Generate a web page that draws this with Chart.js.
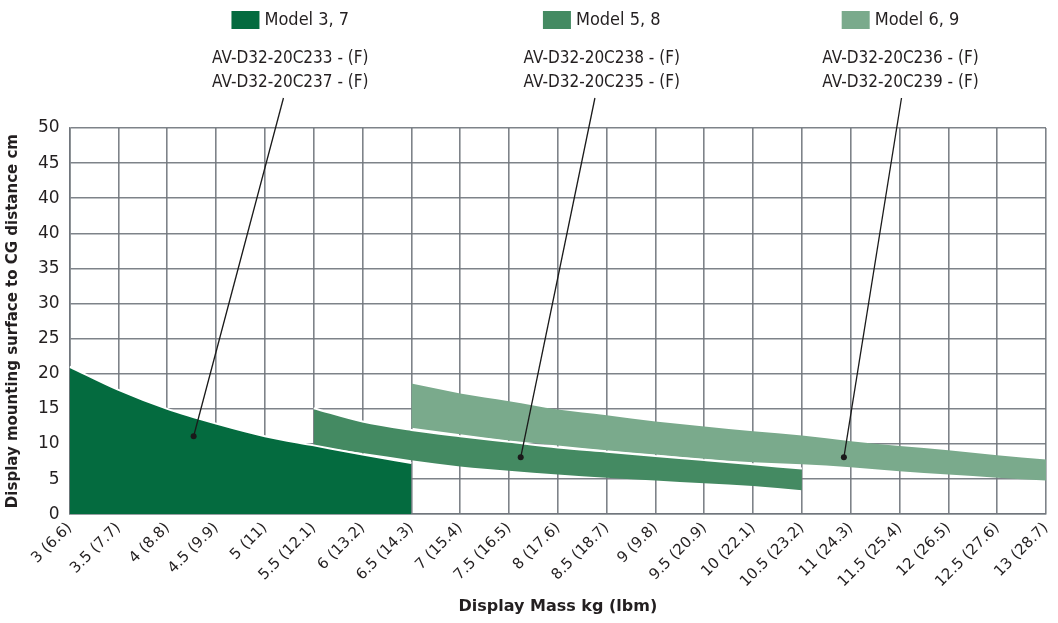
<!DOCTYPE html>
<html>
<head>
<meta charset="utf-8">
<script src="https://cdn.jsdelivr.net/npm/chart.js@4/dist/chart.umd.min.js"></script>
<style>
  html, body { margin: 0; padding: 0; background: #fff; }
  #wrap { width: 1058px; height: 623px; }
</style>
</head>
<body>
<div id="wrap"><canvas id="mountChart"></canvas></div>
<script>
// Display mass vs. mounting-surface-to-CG distance, three model ranges

const xLabels = ['3 (6.6)', '3.5 (7.7)', '4 (8.8)', '4.5 (9.9)', '5 (11)', '5.5 (12.1)', '6 (13.2)',
  '6.5 (14.3)', '7 (15.4)', '7.5 (16.5)', '8 (17.6)', '8.5 (18.7)', '9 (9.8)', '9.5 (20.9)',
  '10 (22.1)', '10.5 (23.2)', '11 (24.3)', '11.5 (25.4)', '12 (26.5)', '12.5 (27.6)', '13 (28.7)'];
const yLabels = ['0', '5', '10', '15', '20', '25', '30', '35', '40', '40', '45', '50'];

const modelNames = ['Model 3, 7', 'Model 5, 8', 'Model 6, 9'];
const modelColors = ['#046b3f', '#448a62', '#7aaa8c'];
const partNumbers = [
  ['AV-D32-20C233 - (F)', 'AV-D32-20C237 - (F)'],
  ['AV-D32-20C238 - (F)', 'AV-D32-20C235 - (F)'],
  ['AV-D32-20C236 - (F)', 'AV-D32-20C239 - (F)']
];

// Model 3, 7 (fills down to 0)
const massA = [3, 3.5, 4, 4.5, 5, 5.5, 6, 6.5];
const upperA = [21.0, 17.7, 15.0, 12.9, 11.1, 9.8, 8.5, 7.3];

// Model 5, 8
const massB = [5.5, 6, 6.5, 7, 7.5, 8, 8.5, 9, 9.5, 10, 10.5];
const upperB = [15.1, 13.2, 12.0, 11.1, 10.3, 9.5, 8.9, 8.3, 7.7, 7.1, 6.5];
const lowerB = [9.7, 8.7, 7.7, 6.8, 6.2, 5.65, 5.2, 4.8, 4.4, 4.0, 3.4];

// Model 6, 9
const massC = [6.5, 7, 7.5, 8, 8.5, 9, 9.5, 10, 10.5, 11, 11.5, 12, 12.5, 13];
const upperC = [18.6, 17.2, 16.1, 14.9, 14.1, 13.2, 12.5, 11.8, 11.2, 10.4, 9.7, 9.1, 8.4, 7.8];
const lowerC = [12.3, 11.4, 10.5, 9.8, 9.1, 8.5, 7.9, 7.4, 7.1, 6.7, 6.1, 5.65, 5.2, 4.8];

// callout dots and label anchors (kg, cm)
const dotMass = [4.27, 7.62, 10.93];
const dotDist = [11.1, 8.1, 8.1];
const leaderMass = [5.19, 8.38, 11.52];
const labelMass = [5.26, 8.45, 11.51];

const FONT = "'DejaVu Sans', sans-serif";
const STRETCH = 'condensed';
const TEXT = '#231f20';
const GRID = 'rgba(112, 117, 124, 0.9)';

function pts(xs, ys) {
  return xs.map((v, i) => ({ x: v, y: ys[i] }));
}

function band(data, color, fill, border) {
  return {
    data: data,
    backgroundColor: color,
    borderColor: border ? '#ffffff' : 'rgba(0,0,0,0)',
    borderWidth: border ? 2 : 0,
    pointRadius: 0,
    cubicInterpolationMode: 'monotone',
    fill: fill
  };
}

const callouts = {
  id: 'callouts',
  afterDraw(chart) {
    const { ctx, chartArea, scales: { x, y } } = chart;
    const top = chartArea.top;
    ctx.save();
    modelNames.forEach((name, i) => {
      const cx = x.getPixelForValue(labelMass[i]);
      ctx.font = STRETCH + ' 18px ' + FONT;
      const tw = ctx.measureText(name).width;
      const boxW = 28, gap = 5;
      const left = cx - (boxW + gap + tw) / 2;
      ctx.fillStyle = modelColors[i];
      ctx.fillRect(left, top - 117, boxW, 18);
      ctx.fillStyle = TEXT;
      ctx.textBaseline = 'middle';
      ctx.textAlign = 'left';
      ctx.fillText(name, left + boxW + gap, top - 108);

      ctx.font = STRETCH + ' 17px ' + FONT;
      ctx.textAlign = 'center';
      partNumbers[i].forEach((t, j) => ctx.fillText(t, cx, top - 69 + j * 24));

      const tx = x.getPixelForValue(leaderMass[i]);
      const px = x.getPixelForValue(dotMass[i]);
      const py = y.getPixelForValue(dotDist[i]);
      ctx.strokeStyle = '#1a1a1a';
      ctx.lineWidth = 1.3;
      ctx.beginPath();
      ctx.moveTo(tx, top - 30);
      ctx.lineTo(px, py);
      ctx.stroke();
      ctx.fillStyle = '#1a1a1a';
      ctx.beginPath();
      ctx.arc(px, py, 3, 0, Math.PI * 2);
      ctx.fill();
    });
    ctx.restore();
  }
};

new Chart(document.getElementById('mountChart'), {
  type: 'line',
  data: {
    datasets: [
      band(pts(massA, upperA), modelColors[0], 'origin', true),
      band(pts(massB, upperB), modelColors[1], { target: 2 }, true),
      band(pts(massB, lowerB), modelColors[1], false, false),
      band(pts(massC, upperC), modelColors[2], { target: 4 }, false),
      band(pts(massC, lowerC), modelColors[2], false, false)
    ]
  },
  options: {
    responsive: true,
    maintainAspectRatio: false,
    animation: false,
    layout: { padding: { top: 128, right: 12, left: 4, bottom: 7 } },
    plugins: {
      legend: { display: false },
      tooltip: { enabled: false }
    },
    scales: {
      x: {
        type: 'linear',
        min: 3,
        max: 13,
        z: 1,
        afterFit: (scale) => { scale.paddingRight = 0; },
        grid: { color: GRID, lineWidth: 1.6, drawTicks: false },
        border: { color: GRID, width: 1.6 },
        ticks: {
          stepSize: 0.5,
          autoSkip: false,
          minRotation: 45,
          maxRotation: 45,
          padding: 5,
          color: TEXT,
          font: { family: FONT, style: STRETCH, size: 15 },
          callback: (v) => xLabels[Math.round((v - 3) * 2)]
        },
        title: {
          display: true,
          text: 'Display Mass kg (lbm)',
          color: TEXT,
          font: { family: FONT, style: STRETCH, size: 16, weight: 'bold' },
          padding: { top: 1, bottom: 0 }
        }
      },
      y: {
        min: 0,
        max: 55,
        z: 1,
        grid: { color: GRID, lineWidth: 1.6, drawTicks: false },
        border: { color: GRID, width: 1.6 },
        ticks: {
          stepSize: 5,
          padding: 10,
          color: TEXT,
          font: { family: FONT, style: STRETCH, size: 17 },
          callback: (v) => yLabels[Math.round(v / 5)]
        },
        title: {
          display: true,
          text: 'Display mounting surface to CG distance cm',
          color: TEXT,
          font: { family: FONT, style: STRETCH, size: 15, weight: 'bold' },
          padding: { top: 0, bottom: 6 }
        }
      }
    }
  },
  plugins: [callouts]
});
</script>
</body>
</html>
